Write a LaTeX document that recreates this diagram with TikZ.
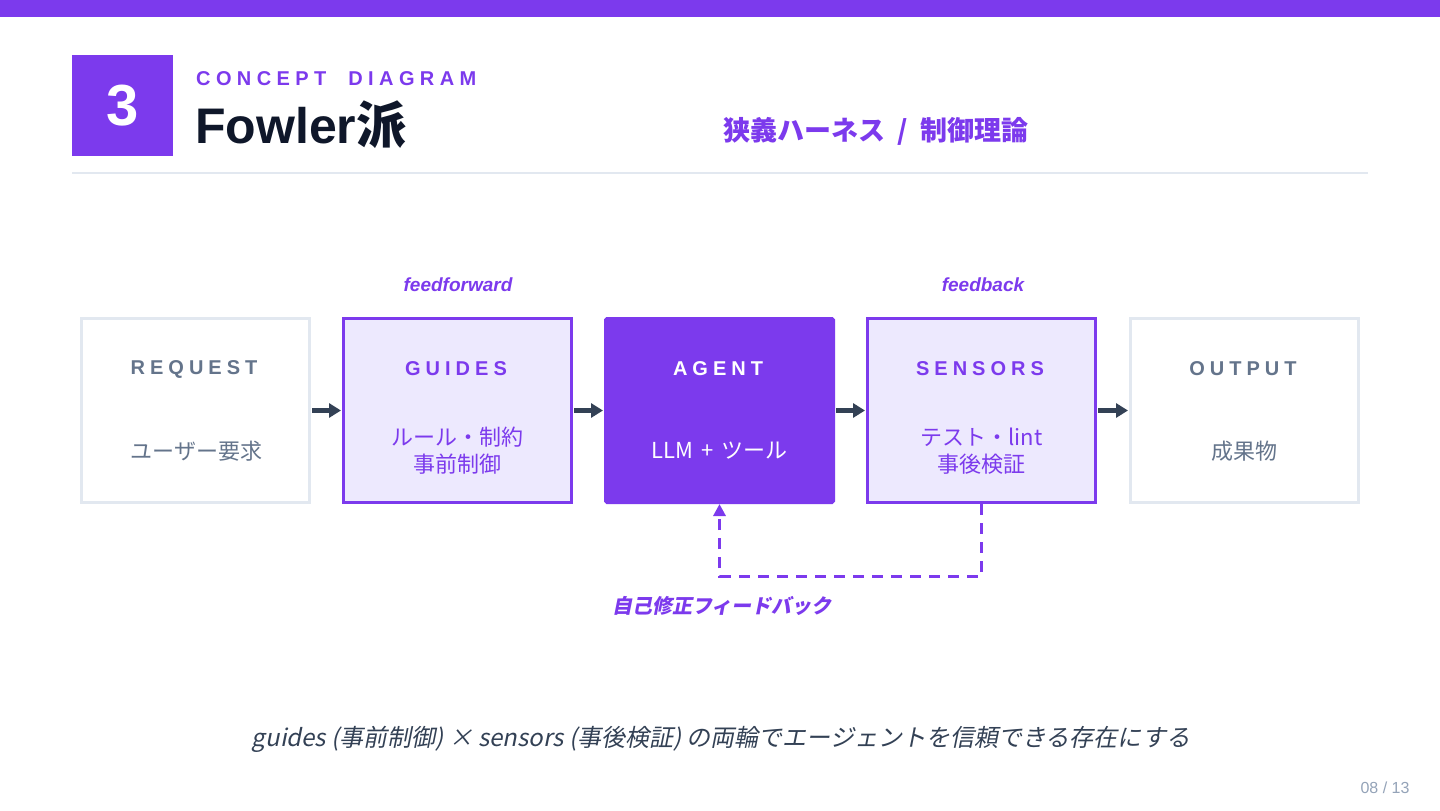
\documentclass[tikz,border=0pt]{standalone}
\usepackage{fontspec}
\usetikzlibrary{arrows.meta}
\setmainfont{Liberation Sans}
\newfontfamily\jp{Noto Sans CJK JP}
\newfontfamily\jpsl[FakeSlant=0.2]{Noto Sans CJK JP}
\newfontfamily\lsp[LetterSpace=25]{Liberation Sans}
\newfontfamily\lspw[LetterSpace=27]{Liberation Sans}
\definecolor{vio}{HTML}{7C3AED}
\definecolor{lav}{HTML}{EDE9FE}
\definecolor{rule}{HTML}{E2E8F0}
\definecolor{slate}{HTML}{64748B}
\definecolor{ink}{HTML}{0F172A}
\definecolor{arrowc}{HTML}{334155}
\definecolor{pg}{HTML}{94A3B8}
\newcommand\fsz[2]{\fontsize{#1}{#2}\selectfont}
\begin{document}
\begin{tikzpicture}[x=1pt,y=-1pt,
  box/.style={minimum width=228pt, minimum height=184pt, line width=3pt, inner sep=0pt},
  plainbox/.style={box, draw=rule, fill=white},
  softbox/.style={box, draw=vio, fill=lav},
  strongbox/.style={box, draw=vio, fill=vio, rounded corners=1.5pt},
  boxtitle/.style={font=\lsp\bfseries\fsz{20}{24}, inner sep=0pt},
  boxsub/.style={font=\jp\fsz{22}{27}, align=center, inner sep=0pt},
  flow/.style={draw=arrowc, line width=4.5pt, -{Triangle[length=12pt,width=14pt]}, shorten >=1pt, shorten <=1pt},
  fb/.style={draw=vio, line width=3pt, dash pattern=on 11pt off 8pt, -{Triangle[length=12pt,width=12pt]}},
  tag/.style={font=\bfseries\itshape\fsz{19}{22}, text=vio, inner sep=0pt}
]
\useasboundingbox (0,0) rectangle (1440,811);
\fill[white] (0,0) rectangle (1440,811);
\fill[vio] (0,0) rectangle (1440,17);
% header
\node[fill=vio, minimum size=101pt, inner sep=0pt, text=white, font=\bfseries\fsz{58}{58}] (num) at (122.5,105.5) {3};
\node[anchor=west, inner sep=0pt, text=vio, font=\lspw\bfseries\fsz{20}{24}] (kicker) at (196,79) {CONCEPT\hspace{22pt}DIAGRAM};
\node[anchor=base west, inner sep=0pt, text=ink, font=\bfseries\fsz{50}{56}] (title) at (195,143) {Fowler{\jp\bfseries 派}};
\node[inner sep=0pt, text=vio, font=\jp\bfseries\fsz{27}{30}] (sub) at (876,131) {狭義ハーネス\hspace{12pt}/\hspace{12pt}制御理論};
\coordinate (r1) at (72,173);
\coordinate (r2) at (1368,173);
\draw[rule, line width=2pt] (r1) -- (r2);
% boxes
\node[plainbox] (req) at (195.5,410.5) {};
\node[softbox] (gui) at (457.5,410.5) {};
\node[strongbox] (agt) at (719.5,410.5) {};
\node[softbox] (sen) at (981.5,410.5) {};
\node[plainbox] (out) at (1244.5,410.5) {};
% titles
\node[boxtitle, text=slate] (reqT) at (194,369) {REQUEST};
\node[boxtitle, text=vio] (guiT) at (456,369) {GUIDES};
\node[boxtitle, text=white] (agtT) at (718,369) {AGENT};
\node[boxtitle, text=vio] (senT) at (980,369) {SENSORS};
\node[boxtitle, text=slate] (outT) at (1243,369) {OUTPUT};
% subtitles
\node[boxsub, text=slate] (reqS) at (196.5,451) {ユーザー要求};
\node[boxsub, text=vio] (guiS) at (457.5,451) {ルール・制約\\事前制御};
\node[boxsub, text=white] (agtS) at (719.5,451) {LLM\hspace{3pt} + \hspace{3pt}ツール};
\node[boxsub, text=vio] (senS) at (981.5,451) {テスト・lint\\事後検証};
\node[boxsub, text=slate] (outS) at (1244.5,451) {成果物};
% flow arrows
\draw[flow] (req) -- (gui);
\draw[flow] (gui) -- (agt);
\draw[flow] (agt) -- (sen);
\draw[flow] (sen) -- (out);
% tags
\node[tag] (ff) at (458,285) {feedforward};
\node[tag] (fbk) at (983,285) {feedback};
% feedback loop
\coordinate (loop) at (850,576);
\draw[fb] (sen.south) -- (sen.south |- loop) -- (agt.south |- loop) -- (agt.south);
\node[inner sep=0pt, text=vio, font=\jpsl\bfseries\fsz{20}{24}] (loopL) at (722,606) {自己修正フィードバック};
% footer
\node[inner sep=0pt, text=arrowc, font=\jpsl\fsz{24}{28}] (foot) at (721,739) {guides (事前制御) × sensors (事後検証) の両輪でエージェントを信頼できる存在にする};
\node[inner sep=0pt, text=pg, font=\fsz{16}{20}] (page) at (1385,788) {08 / 13};
\end{tikzpicture}
\end{document}
